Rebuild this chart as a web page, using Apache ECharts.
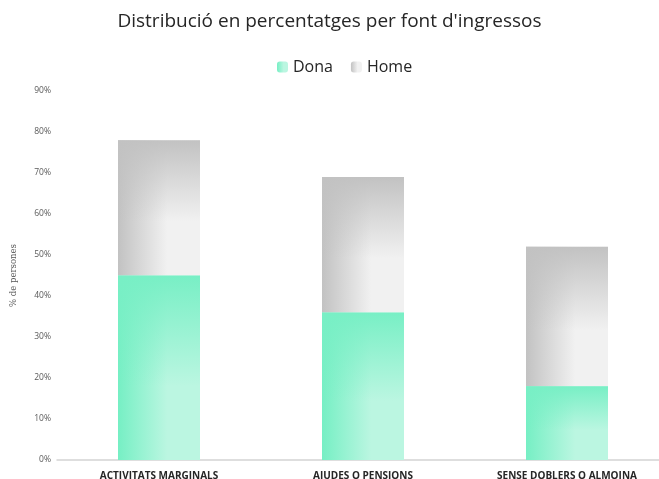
<!DOCTYPE html>
<html>
<head>
<meta charset="utf-8">
<script src="https://cdn.jsdelivr.net/npm/echarts@6/dist/echarts.min.js"></script>
<style>
  html, body { margin: 0; padding: 0; background: #fff; }
  #chart { width: 659px; height: 479px; }
</style>
</head>
<body>
<div id="chart"></div>
<script>
// dades llegides del gràfic original
var categories = ['ACTIVITATS MARGINALS', 'AJUDES O PENSIONS', 'SENSE DOBLERS O ALMOINA']
var donaValues = [45, 36, 18]
var homeValues = [33, 33, 34]
var yTicks = { min: 0, max: 90, interval: 10 }

var font = 'Open Sans'

// degradat "des de la cantonada": base horitzontal + ombra vertical per sobre
function hGrad (dark, light) {
  return new echarts.graphic.LinearGradient(0, 0, 1, 0, [
    { offset: 0, color: dark },
    { offset: 0.6, color: light },
    { offset: 1, color: light }
  ])
}
function vShade (rgb) {
  return new echarts.graphic.LinearGradient(0, 0, 0, 1, [
    { offset: 0, color: 'rgba(' + rgb + ',1)' },
    { offset: 0.6, color: 'rgba(' + rgb + ',0)' },
    { offset: 1, color: 'rgba(' + rgb + ',0)' }
  ])
}

var chart = echarts.init(document.getElementById('chart'))
var option = {
  backgroundColor: '#ffffff',
  animation: false,
  title: {
    text: "Distribució en percentatges per font d'ingressos",
    left: 'center',
    top: 7,
    textStyle: { fontFamily: font, fontWeight: 'normal', fontSize: 19, color: '#262626' }
  },
  legend: {
    data: ['Dona', 'Home'],
    left: 272,
    top: 54,
    itemWidth: 11,
    itemHeight: 11,
    itemGap: 18,
    textStyle: { fontFamily: font, fontSize: 16, color: '#262626' }
  },
  grid: {
    left: 57,
    top: 91,
    width: 612,
    height: 369,
    outerBoundsMode: 'none',
    containLabel: false
  },
  xAxis: {
    type: 'category',
    data: categories,
    axisLine: { lineStyle: { color: '#d4d4d4', width: 1.5 } },
    axisTick: { show: false },
    axisLabel: {
      interval: 0,
      margin: 11,
      fontFamily: font,
      fontWeight: 'bold',
      fontSize: 10,
      color: '#262626'
    }
  },
  yAxis: {
    type: 'value',
    min: yTicks.min,
    max: yTicks.max,
    interval: yTicks.interval,
    name: '% de persones',
    nameLocation: 'middle',
    nameGap: 39,
    nameTextStyle: { fontFamily: 'DejaVu Serif', fontSize: 8.5, color: '#595959' },
    axisLine: { show: false },
    axisTick: { show: false },
    splitLine: { show: false },
    axisLabel: {
      formatter: '{value}%',
      fontFamily: font,
      fontSize: 8.5,
      color: '#595959',
      margin: 6
    }
  },
  series: [
    {
      name: 'Dona',
      type: 'bar',
      stack: 'total',
      barWidth: 82,
      data: donaValues,
      itemStyle: { color: hGrad('#76efc4', '#bbf6e1') }
    },
    {
      name: 'Home',
      type: 'bar',
      stack: 'total',
      barWidth: 82,
      data: homeValues,
      itemStyle: { color: hGrad('#c2c2c2', '#f1f1f1') }
    },
    {
      name: 'DonaOmbra',
      type: 'bar',
      stack: 'ombra',
      barWidth: 82,
      barGap: '-100%',
      silent: true,
      data: donaValues,
      itemStyle: { color: vShade('120,239,197') }
    },
    {
      name: 'HomeOmbra',
      type: 'bar',
      stack: 'ombra',
      barWidth: 82,
      barGap: '-100%',
      silent: true,
      data: homeValues,
      itemStyle: { color: vShade('194,194,194') }
    }
  ]
}
chart.setOption(option)
</script>
</body>
</html>
